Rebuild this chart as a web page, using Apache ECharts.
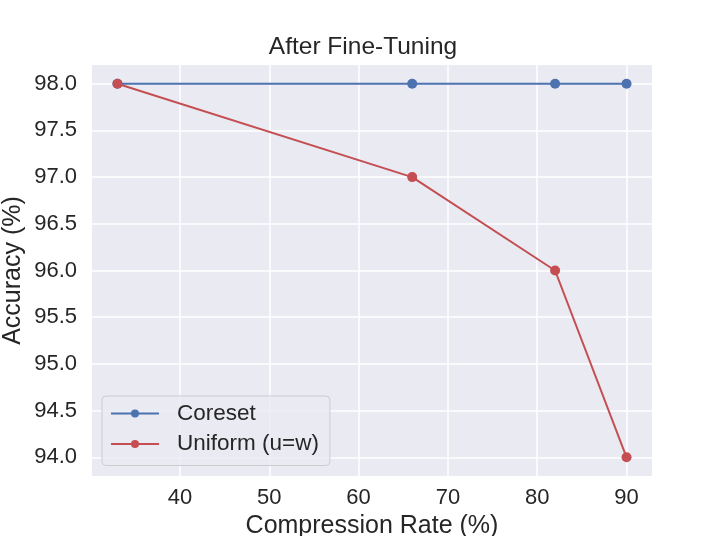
<!DOCTYPE html>
<html>
<head>
<meta charset="utf-8">
<script src="https://cdn.jsdelivr.net/npm/echarts@6/dist/echarts.min.js"></script>
<style>
  html, body { margin: 0; padding: 0; background: #fff; }
  #main { width: 726px; height: 536px; }
</style>
</head>
<body>
<div id="main"></div>
<script>
// data
var rates = [33, 66, 82, 90];
var coreset = [98.0, 98.0, 98.0, 98.0];
var uniform = [98.0, 97.0, 96.0, 94.0];
var xTicks = [40, 50, 60, 70, 80, 90];
var yTicks = [94.0, 94.5, 95.0, 95.5, 96.0, 96.5, 97.0, 97.5, 98.0];

var FONT = 'Liberation Sans';
var chart = echarts.init(document.getElementById('main'));

function pairs(xs, ys) {
  var out = [];
  for (var i = 0; i < xs.length; i++) out.push([xs[i], ys[i]]);
  return out;
}

var option = {
  animation: false,
  backgroundColor: '#fff',
  textStyle: { fontFamily: FONT },
  title: {
    text: 'After Fine-Tuning',
    left: 'center',
    top: 35,
    padding: 0,
    textStyle: { fontFamily: FONT, fontSize: 24.5, fontWeight: 'normal', color: '#262626' }
  },
  grid: {
    left: 92, right: 74, top: 65, bottom: 60,
    outerBoundsMode: 'none',
    containLabel: false,
    show: true, backgroundColor: '#EAEAF2', borderWidth: 0
  },
  legend: {
    left: 102, top: 396,
    orient: 'vertical',
    padding: [6, 11, 10, 8],
    itemGap: 7.5,
    itemWidth: 48, itemHeight: 10,
    backgroundColor: 'rgba(234,234,242,0.8)',
    borderColor: '#cccccc', borderWidth: 1, borderRadius: 4,
    textStyle: { fontFamily: FONT, fontSize: 22.5, color: '#262626', padding: [0, 0, 0, 13] },
    data: ['Coreset', 'Uniform (u=w)']
  },
  xAxis: {
    type: 'value',
    min: 30.15, max: 92.85,
    name: 'Compression Rate (%)',
    nameLocation: 'middle',
    nameGap: 37,
    nameTextStyle: { fontFamily: FONT, fontSize: 25, color: '#262626' },
    axisLine: { show: false },
    axisTick: { show: false, customValues: xTicks },
    axisLabel: { customValues: xTicks, fontFamily: FONT, fontSize: 22, color: '#262626', margin: 11 },
    splitLine: { show: true, lineStyle: { color: '#fff', width: 1.5 } }
  },
  yAxis: {
    type: 'value',
    min: 93.8, max: 98.2,
    name: 'Accuracy (%)',
    nameLocation: 'middle',
    nameMoveOverlap: false,
    nameGap: 66,
    nameTextStyle: { fontFamily: FONT, fontSize: 25, color: '#262626' },
    axisLine: { show: false },
    axisTick: { show: false, customValues: yTicks },
    axisLabel: {
      customValues: yTicks, fontFamily: FONT, fontSize: 22, color: '#262626', margin: 15,
      formatter: function (v) { return v.toFixed(1); }
    },
    splitLine: { show: true, lineStyle: { color: '#fff', width: 1.5 } }
  },
  series: [
    {
      name: 'Coreset',
      type: 'line',
      data: pairs(rates, coreset),
      symbol: 'circle', symbolSize: 10,
      color: '#4C72B0',
      lineStyle: { width: 2 },
      clip: false
    },
    {
      name: 'Uniform (u=w)',
      type: 'line',
      data: pairs(rates, uniform),
      symbol: 'circle', symbolSize: 10,
      color: '#C44E52',
      lineStyle: { width: 2 },
      clip: false
    }
  ]
};

chart.setOption(option);
</script>
</body>
</html>
